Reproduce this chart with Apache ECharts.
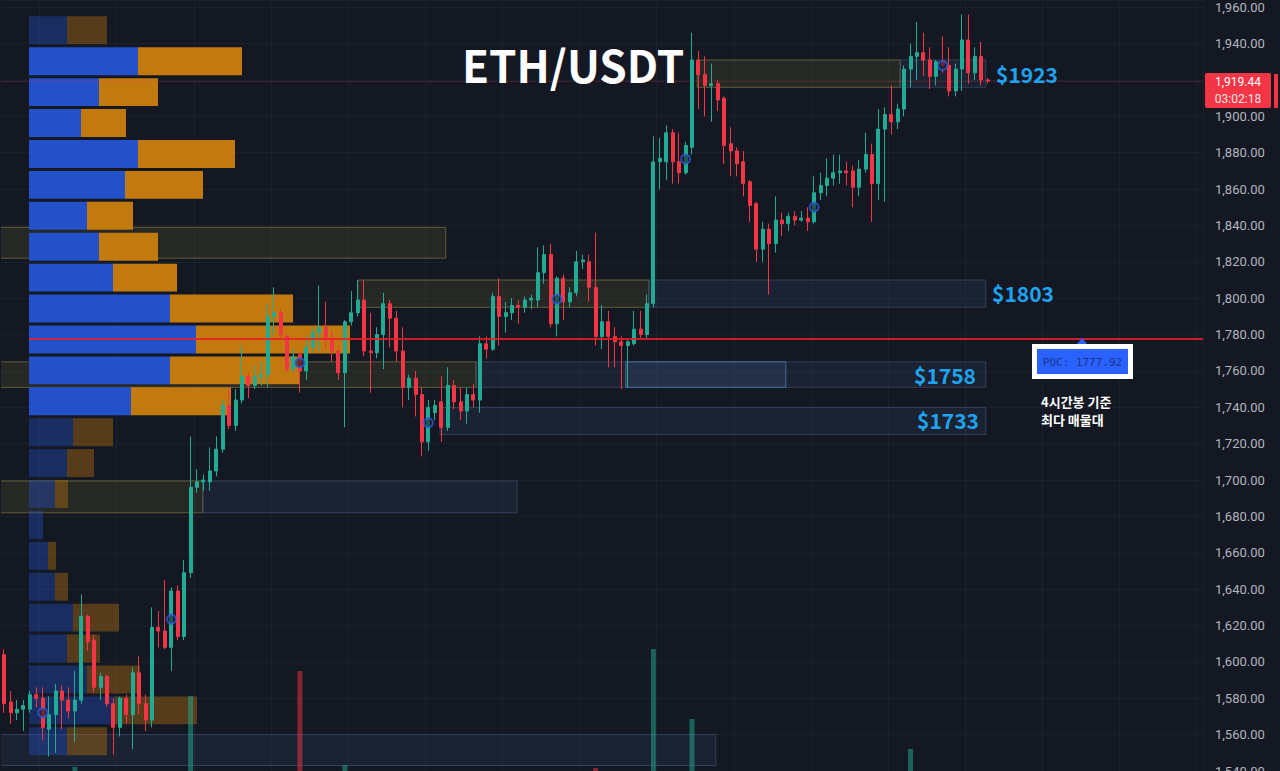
<!DOCTYPE html>
<html>
<head>
<meta charset="utf-8">
<script src="https://cdn.jsdelivr.net/npm/echarts@6/dist/echarts.min.js"></script>
<style>
  html, body { margin: 0; padding: 0; background: #141823; }
  #chart { width: 1280px; height: 771px; }
</style>
</head>
<body>
<div id="chart"></div>
<script>
// 4h candles, [open, close, low, high]
var ohlc = [
  [1604,1577,1572,1607],[1578,1572,1566,1584],[1572,1574,1568,1579],[1574,1576,1562,1579],[1574,1582,1572,1584],
  [1582,1580,1575,1586],[1580,1564,1557,1586],[1563,1571,1548,1581],[1571,1584,1550,1588],[1584,1579,1563,1587],
  [1579,1573,1569,1586],[1573,1579,1556,1595],[1579,1625,1577,1637],[1625,1611,1606,1626],[1612,1586,1583,1615],
  [1586,1592,1579,1594],[1592,1577,1575,1593],[1577,1564,1549,1580],[1564,1580,1559,1581],[1580,1571,1566,1582],
  [1571,1594,1552,1597],[1594,1577,1571,1603],[1577,1568,1562,1582],[1568,1619,1564,1630],[1619,1617,1608,1628],
  [1617,1608,1607,1645],[1608,1639,1595,1641],[1639,1614,1612,1642],[1614,1649,1612,1656],[1649,1696,1646,1724],
  [1696,1699,1693,1706],[1699,1700,1694,1703],[1699,1705,1694,1718],[1705,1717,1702,1724],[1717,1741,1715,1744],
  [1741,1730,1728,1751],[1730,1744,1727,1750],[1744,1757,1742,1774],[1757,1752,1745,1759],[1752,1757,1750,1763],
  [1757,1758,1752,1765],[1758,1790,1751,1797],[1790,1792,1780,1806],[1792,1780,1778,1794],[1779,1761,1759,1781],
  [1761,1768,1759,1772],[1769,1760,1748,1771],[1760,1773,1755,1779],[1773,1781,1770,1784],[1781,1784,1771,1807],
  [1784,1778,1772,1798],[1778,1771,1765,1782],[1771,1759,1755,1774],[1759,1787,1729,1788],[1787,1792,1785,1804],
  [1792,1799,1790,1810],[1799,1771,1768,1810],[1771,1770,1748,1792],[1770,1780,1767,1784],[1780,1797,1761,1803],
  [1797,1789,1773,1799],[1789,1771,1765,1793],[1771,1751,1740,1784],[1751,1756,1744,1758],[1756,1747,1735,1760],
  [1747,1721,1713,1751],[1721,1740,1716,1744],[1737,1741,1733,1744],[1743,1729,1721,1757],[1729,1752,1727,1762],
  [1752,1743,1739,1755],[1743,1738,1733,1751],[1738,1747,1731,1751],[1747,1744,1740,1753],[1744,1775,1737,1779],
  [1775,1772,1767,1779],[1772,1801,1771,1803],[1801,1790,1774,1811],[1790,1792,1781,1798],[1792,1796,1788,1800],
  [1796,1795,1786,1799],[1795,1799,1792,1801],[1799,1800,1794,1802],[1799,1814,1795,1828],[1814,1824,1808,1829],
  [1824,1786,1784,1830],[1786,1811,1779,1812],[1811,1798,1788,1813],[1798,1803,1795,1806],[1803,1820,1801,1826],
  [1820,1821,1816,1824],[1820,1806,1798,1824],[1806,1779,1774,1836],[1779,1787,1772,1796],[1787,1779,1762,1793],
  [1779,1776,1762,1784],[1776,1774,1750,1779],[1774,1776,1751,1777],[1775,1783,1774,1793],[1783,1780,1778,1793],
  [1780,1797,1778,1802],[1797,1875,1795,1889],[1875,1877,1860,1888],[1875,1891,1865,1895],[1891,1875,1863,1893],
  [1875,1869,1863,1891],[1869,1884,1868,1886],[1883,1931,1879,1946],[1931,1923,1904,1936],[1923,1917,1900,1933],
  [1917,1918,1897,1929],[1918,1909,1903,1920],[1910,1884,1874,1911],[1885,1881,1867,1894],[1881,1874,1867,1883],
  [1875,1863,1856,1881],[1864,1851,1842,1865],[1852,1827,1820,1853],[1827,1838,1820,1842],[1838,1830,1802,1841],
  [1830,1843,1825,1856],[1843,1841,1834,1847],[1841,1845,1837,1847],[1845,1843,1840,1848],[1843,1844,1842,1848],
  [1844,1842,1837,1850],[1842,1858,1841,1867],[1858,1862,1854,1869],[1862,1866,1856,1877],[1866,1869,1862,1879],
  [1869,1870,1863,1879],[1870,1869,1862,1875],[1870,1861,1850,1873],[1861,1871,1856,1876],[1871,1879,1869,1891],
  [1879,1863,1842,1885],[1863,1893,1854,1904],[1893,1901,1853,1905],[1901,1897,1890,1917],[1897,1904,1893,1907],
  [1904,1926,1900,1928],[1926,1933,1916,1940],[1933,1935,1920,1952],[1935,1931,1922,1946],[1931,1922,1915,1938],
  [1922,1930,1917,1931],[1930,1928,1924,1944],[1928,1914,1911,1938],[1914,1926,1911,1929],[1926,1942,1914,1956],
  [1942,1924,1918,1956],[1924,1933,1920,1938],[1933,1920,1917,1941],[1920,1919.44,1918,1921]
];

// volume per candle (most sit below the visible part of the pane)
var volumes = [
  210,160,120,130,150,140,220,190,200,150,
  140,304,290,180,230,150,170,210,180,140,
  220,190,160,280,150,200,240,210,260,375,
  190,150,170,180,240,200,190,230,160,140,
  150,280,230,190,250,170,400,200,170,210,
  190,160,200,306,180,190,270,210,160,230,
  180,210,250,150,190,260,240,150,230,220,
  160,150,170,140,260,150,250,230,140,130,
  120,120,110,220,200,280,240,200,140,190,
  120,230,303,200,210,170,190,160,170,150,
  240,422,260,250,240,210,180,352,270,230,
  200,180,260,210,170,200,210,270,220,250,
  210,150,130,120,110,130,200,150,160,140,
  130,120,170,160,190,250,280,230,200,160,
  260,322,240,200,190,170,180,210,180,260,
  250,170,190,60
];

var slotCount = 187;
var categories = [];
for (var i = 0; i < slotCount; i++) categories.push(String(i));

// volume profile rows, from the top bin down
var profileTop = 1955;
var profileStep = 17;
var buyVol  = [19,54.5,35,26,54.5,48,29,35,42,70.5,83.5,70.5,51,22,19,13,7,9.5,13,22,19,29,43,19];
var sellVol = [20,52,29.5,22.5,48.5,39,23,29.5,32,61.5,77,64.5,50,20,13.5,6.5,0,4,6.5,23,16.5,26.5,41,20];
var valueAreaHigh = 1938;
var valueAreaLow = 1734;
var pocPrice = 1777.92;
var lastPrice = 1919.44;

// signal circles
var signalIdx = [6,26,46,66,86,106,126,146];
var signalPrice = [1572,1623.5,1764.5,1731.5,1799.5,1876.5,1850,1928];

// boxes: [fromIdx, toIdx, low, high, kind]  kind 0 = supply(olive), 1 = zone(blue), 2 = zone highlight
var zones = [
  [-1, 68.7, 1822, 1839, 0],
  [55.0, 100.3, 1795, 1810, 0],
  [100.3, 152.7, 1795, 1810, 1],
  [-1, 73.4, 1751, 1765, 0],
  [73.4, 152.7, 1751, 1765, 1],
  [96.7, 121.6, 1751, 1765, 2],
  [67.8, 152.7, 1725, 1740, 1],
  [-1, 30.9, 1682, 1699.5, 0],
  [30.9, 79.8, 1682, 1699.5, 1],
  [107.8, 139.4, 1916, 1931, 0],
  [139.4, 152.7, 1916, 1931, 1],
  [-1, 110.7, 1543, 1560, 1]
];

var zoneStyles = [
  { fill: 'rgba(110,106,45,0.2)', stroke: 'rgba(120,116,62,0.75)' },
  { fill: 'rgba(60,82,120,0.18)', stroke: 'rgba(62,80,110,0.7)' },
  { fill: 'rgba(70,100,150,0.22)', stroke: 'rgba(80,120,175,0.8)' }
];

var profileData = [];
for (var k = 0; k < buyVol.length; k++) {
  var hi = profileTop - profileStep * k;
  profileData.push([hi - profileStep, hi, buyVol[k], sellVol[k]]);
}

var volData = [];
for (var j = 0; j < volumes.length; j++) {
  var up = ohlc[j][1] >= ohlc[j][0];
  volData.push({ value: volumes[j], itemStyle: { color: up ? 'rgba(34,171,148,0.5)' : 'rgba(242,54,69,0.5)' } });
}

var signals = [];
for (var s = 0; s < signalIdx.length; s++) signals.push([signalIdx[s], signalPrice[s]]);

var chart = echarts.init(document.getElementById('chart'), null, { renderer: 'svg' });

var gridColor = '#1c202b';

var option = {
  backgroundColor: '#141823',
  animation: false,
  grid: [
    { left: 1, right: 77, top: 0, bottom: 0, outerBoundsMode: 'none', containLabel: false },
    { left: 29, right: 77, top: 0, bottom: 0, outerBoundsMode: 'none', containLabel: false }
  ],
  xAxis: [
    {
      type: 'category', gridIndex: 0, data: categories, boundaryGap: true,
      axisLine: { show: false }, axisTick: { show: false }, axisLabel: { show: false },
      splitLine: { show: true, interval: function (idx) { return idx % 12 === 6; }, lineStyle: { color: gridColor } }
    },
    { type: 'value', gridIndex: 0, min: -0.5, max: slotCount - 0.5, show: false },
    { type: 'value', gridIndex: 1, min: 0, max: 587, show: false }
  ],
  yAxis: [
    {
      type: 'value', gridIndex: 0, position: 'right', min: 1540, max: 1964, interval: 20,
      axisLine: { show: false }, axisTick: { show: false },
      axisLabel: {
        margin: 12, color: '#b2b5be', fontSize: 13, fontFamily: 'Roboto',
        formatter: function (v) {
          // 1,920 sits under the last-price tag
          if (v % 20 !== 0 || v === 1920) return '';
          return v.toLocaleString('en-US', { minimumFractionDigits: 2, maximumFractionDigits: 2 });
        }
      },
      splitLine: { show: true, lineStyle: { color: gridColor } }
    },
    { type: 'value', gridIndex: 0, min: 300, max: 1071, show: false },
    { type: 'value', gridIndex: 1, min: 1540, max: 1964, show: false }
  ],
  series: [
    {
      type: 'custom', name: 'zones', xAxisIndex: 1, yAxisIndex: 0, z: 1, clip: true,
      data: zones,
      renderItem: function (params, api) {
        var p0 = api.coord([api.value(0), api.value(3)]);
        var p1 = api.coord([api.value(1), api.value(2)]);
        var st = zoneStyles[api.value(4)];
        return {
          type: 'rect',
          shape: { x: p0[0], y: p0[1], width: p1[0] - p0[0], height: p1[1] - p0[1] },
          style: { fill: st.fill, stroke: st.stroke, lineWidth: 1 }
        };
      },
      markLine: {
        silent: true, symbol: 'none', label: { show: false },
        lineStyle: { color: 'rgba(242,54,69,0.4)', type: 'dotted', width: 1 },
        data: [{ yAxis: lastPrice }]
      }
    },
    {
      type: 'custom', name: 'profile', xAxisIndex: 2, yAxisIndex: 2, z: 2,
      data: profileData,
      renderItem: function (params, api) {
        var low = api.value(0), high = api.value(1), buy = api.value(2), sell = api.value(3);
        var top = api.coord([0, high]);
        var bot = api.coord([0, low]);
        var xb = api.coord([buy, low])[0];
        var xs = api.coord([buy + sell, low])[0];
        var h = bot[1] - top[1] - 3;
        var inVA = low >= valueAreaLow && high <= valueAreaHigh;
        var blue = inVA ? '#2451c9' : 'rgba(36,81,201,0.38)';
        var orange = inVA ? '#c27a0e' : 'rgba(194,122,14,0.38)';
        return {
          type: 'group',
          children: [
            { type: 'rect', shape: { x: top[0], y: top[1], width: xb - top[0], height: h }, style: { fill: blue } },
            { type: 'rect', shape: { x: xb, y: top[1], width: xs - xb, height: h }, style: { fill: orange } }
          ]
        };
      },
      markLine: {
        silent: true, symbol: 'none', label: { show: false },
        lineStyle: { color: 'rgba(235,30,40,0.85)', type: 'solid', width: 2 },
        data: [{ yAxis: pocPrice }]
      }
    },
    {
      type: 'bar', name: 'volume', xAxisIndex: 0, yAxisIndex: 1, z: 3,
      barWidth: 5, data: volData
    },
    {
      type: 'candlestick', name: 'ETH/USDT', xAxisIndex: 0, yAxisIndex: 0, z: 4,
      barWidth: 3.5,
      data: ohlc,
      itemStyle: {
        color: '#22ab94', color0: '#f23645',
        borderColor: '#22ab94', borderColor0: '#f23645', borderWidth: 1
      }
    },
    {
      type: 'scatter', name: 'signals', xAxisIndex: 0, yAxisIndex: 0, z: 5,
      symbol: 'circle', symbolSize: 9, data: signals,
      itemStyle: { color: 'rgba(20,24,35,0.7)', borderColor: '#2a5bd7', borderWidth: 2 }
    }
  ],
  graphic: [
    { type: 'text', z: 100, x: 462, y: 64, style: { text: 'ETH/USDT', fill: '#ffffff', font: 'bold 44px "Noto Sans CJK KR"', verticalAlign: 'middle' } },
    { type: 'text', z: 100, x: 996, y: 74, style: { text: '$1923', fill: '#1fa3ee', font: 'bold 21px "Noto Sans CJK KR"', verticalAlign: 'middle' } },
    { type: 'text', z: 100, x: 992, y: 293, style: { text: '$1803', fill: '#1fa3ee', font: 'bold 21px "Noto Sans CJK KR"', verticalAlign: 'middle' } },
    { type: 'text', z: 100, x: 976, y: 375, style: { text: '$1758', fill: '#1fa3ee', font: 'bold 21px "Noto Sans CJK KR"', align: 'right', verticalAlign: 'middle' } },
    { type: 'text', z: 100, x: 979, y: 420, style: { text: '$1733', fill: '#1fa3ee', font: 'bold 21px "Noto Sans CJK KR"', align: 'right', verticalAlign: 'middle' } },
    { type: 'polygon', z: 100, shape: { points: [[1077, 344], [1082, 338], [1087, 344]] }, style: { fill: '#2962ff' } },
    { type: 'rect', z: 100, shape: { x: 1032, y: 344, width: 101, height: 35 }, style: { fill: '#ffffff' } },
    { type: 'rect', z: 101, shape: { x: 1037, y: 349, width: 91, height: 25 }, style: { fill: '#2962ff' } },
    { type: 'text', z: 102, x: 1082.5, y: 362, style: { text: 'POC: 1777.92', fill: '#1c3286', font: '11px "DejaVu Sans Mono"', align: 'center', verticalAlign: 'middle' } },
    { type: 'text', z: 100, x: 1041, y: 401, style: { text: '4시간봉 기준', fill: '#ffffff', font: 'bold 13px "Noto Sans CJK KR"', verticalAlign: 'middle' } },
    { type: 'text', z: 100, x: 1041, y: 419, style: { text: '최다 매물대', fill: '#ffffff', font: 'bold 13px "Noto Sans CJK KR"', verticalAlign: 'middle' } },
    { type: 'rect', z: 100, shape: { x: 1205, y: 73, width: 66, height: 35, r: 2 }, style: { fill: '#f23645' } },
    { type: 'rect', z: 100, shape: { x: 1274, y: 74, width: 4, height: 34 }, style: { fill: '#f23645' } },
    { type: 'text', z: 101, x: 1238, y: 82, style: { text: '1,919.44', fill: '#ffffff', font: '12px Roboto', align: 'center', verticalAlign: 'middle' } },
    { type: 'text', z: 101, x: 1238, y: 99, style: { text: '03:02:18', fill: '#ffe3e5', font: '12px Roboto', align: 'center', verticalAlign: 'middle' } }
  ]
};

chart.setOption(option);
</script>
</body>
</html>
